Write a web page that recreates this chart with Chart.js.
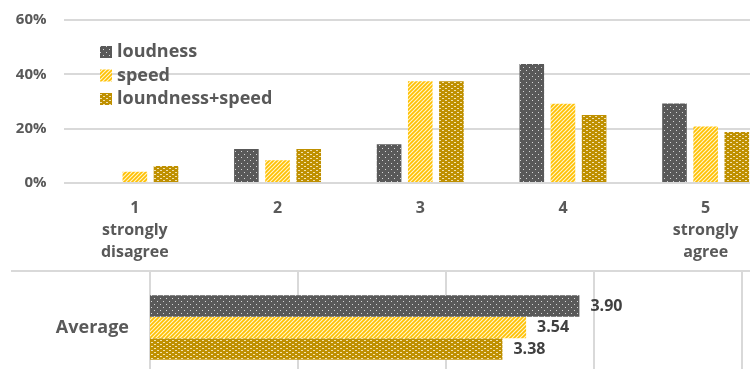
<!DOCTYPE html>
<html>
<head>
<meta charset="utf-8">
<script src="https://cdn.jsdelivr.net/npm/chart.js@4.4.1/dist/chart.umd.min.js"></script>
<style>
  html, body { margin: 0; padding: 0; background: #fff; overflow: hidden; }
  #wrap { position: relative; width: 750px; height: 369px; overflow: hidden; }
  #topBox { position: absolute; left: 0; top: 0; width: 777px; height: 270px; }
  #botBox { position: absolute; left: 0; top: 270px; width: 750px; height: 115px; }
</style>
</head>
<body>
<div id="wrap">
  <div id="topBox"><canvas id="distChart"></canvas></div>
  <div id="botBox"><canvas id="avgChart"></canvas></div>
</div>
<script>
// Dane: rozkład odpowiedzi (%) i średnie
const categories = [['1', 'strongly', 'disagree'], '2', '3', '4', ['5', 'strongly', 'agree']];
const seriesNames = ['loudness', 'speed', 'loundness+speed'];
const loudness = [0, 12.5, 14.3, 43.8, 29.3];
const speed = [4.17, 8.33, 37.5, 29.17, 20.83];
const loudSpeed = [6.25, 12.5, 37.5, 25, 18.75];
const averages = [3.90, 3.54, 3.38];
const avgLabel = ['Average'];
const yTicks = [0, 20, 40, 60];

const TXT = '#595959';
const GRID = '#D9D9D9';
const FONT = "'Open Sans', sans-serif";

// Wzory wypełnień (jak w Excelu)
function dotPattern(bg, dot) {
    const c = document.createElement('canvas');
    c.width = 6; c.height = 6;
    const g = c.getContext('2d');
    g.fillStyle = bg; g.fillRect(0, 0, 6, 6);
    g.fillStyle = dot;
    g.fillRect(1, 1, 1, 1);
    g.fillRect(4, 4, 1, 1);
    return g.createPattern(c, 'repeat');
}
function stripePattern(bg, line) {
    const c = document.createElement('canvas');
    c.width = 4; c.height = 4;
    const g = c.getContext('2d');
    g.fillStyle = bg; g.fillRect(0, 0, 4, 4);
    g.strokeStyle = line; g.lineWidth = 1.2;
    g.beginPath();
    g.moveTo(-1, 5); g.lineTo(5, -1);
    g.moveTo(-1, 1); g.lineTo(1, -1);
    g.moveTo(3, 5); g.lineTo(5, 3);
    g.stroke();
    return g.createPattern(c, 'repeat');
}
function weavePattern(bg, fg) {
    const c = document.createElement('canvas');
    c.width = 6; c.height = 4;
    const g = c.getContext('2d');
    g.fillStyle = bg; g.fillRect(0, 0, 6, 4);
    g.fillStyle = fg;
    g.fillRect(1, 0, 2, 1);
    g.fillRect(4, 2, 2, 1);
    return g.createPattern(c, 'repeat');
}

const fills = [
    dotPattern('#595959', '#d6d6d6'),
    stripePattern('#FFC000', '#fff4cc'),
    weavePattern('#BF9000', '#f2e2b0')
];

// Legenda wewnątrz obszaru wykresu
const innerLegend = {
    id: 'innerLegend',
    afterDraw(chart) {
        const ctx = chart.ctx;
        ctx.save();
        ctx.font = 'bold 18px ' + FONT;
        ctx.textBaseline = 'middle';
        chart.data.datasets.forEach((ds, i) => {
            const y = 52 + i * 23.5;
            ctx.fillStyle = ds.backgroundColor;
            ctx.fillRect(100, y - 6, 12, 12);
            ctx.fillStyle = TXT;
            ctx.fillText(ds.label, 117, y);
        });
        ctx.restore();
    }
};

new Chart(document.getElementById('distChart'), {
    type: 'bar',
    data: {
        labels: categories,
        datasets: [
            { label: seriesNames[0], data: loudness, backgroundColor: fills[0] },
            { label: seriesNames[1], data: speed, backgroundColor: fills[1] },
            { label: seriesNames[2], data: loudSpeed, backgroundColor: fills[2] }
        ]
    },
    options: {
        responsive: true,
        maintainAspectRatio: false,
        animation: false,
        categoryPercentage: 0.655,
        barPercentage: 0.79,
        layout: { padding: { top: 20, left: 0, right: 0, bottom: 0 } },
        plugins: { legend: { display: false }, tooltip: { enabled: false } },
        scales: {
            x: {
                grid: { display: false, drawTicks: false },
                border: { display: false },
                ticks: { color: TXT, font: { family: FONT, size: 16, weight: 'bold', lineHeight: 1.375 }, padding: 14, maxRotation: 0, autoSkip: false },
                afterFit: s => { s.height = 87; }
            },
            y: {
                min: 0, max: 60,
                afterBuildTicks: s => { s.ticks = yTicks.map(v => ({ value: v })); },
                grid: { color: GRID, lineWidth: 2, drawTicks: true, tickLength: 17, tickColor: 'transparent' },
                border: { display: false },
                ticks: { color: TXT, font: { family: FONT, size: 15, weight: 'bold', lineHeight: 0.1 }, padding: 0, callback: v => v + '%' },
                afterFit: s => { s.width = 63.5; }
            }
        }
    },
    plugins: [innerLegend]
});

// Etykiety wartości i linia oddzielająca
const avgExtras = {
    id: 'avgExtras',
    beforeDraw(chart) {
        const ctx = chart.ctx;
        ctx.save();
        ctx.strokeStyle = GRID; ctx.lineWidth = 2;
        ctx.beginPath(); ctx.moveTo(11, 1); ctx.lineTo(chart.width, 1); ctx.stroke();
        ctx.restore();
    },
    afterDatasetsDraw(chart) {
        const ctx = chart.ctx;
        ctx.save();
        ctx.font = 'bold 16px ' + FONT;
        ctx.fillStyle = '#404040';
        ctx.textBaseline = 'middle';
        chart.data.datasets.forEach((ds, i) => {
            chart.getDatasetMeta(i).data.forEach((bar, j) => {
                ctx.fillText(ds.data[j].toFixed(2), bar.x + 11, bar.y);
            });
        });
        ctx.restore();
    }
};

new Chart(document.getElementById('avgChart'), {
    type: 'bar',
    data: {
        labels: avgLabel,
        datasets: [
            { label: seriesNames[0], data: [averages[0]], backgroundColor: fills[0] },
            { label: seriesNames[1], data: [averages[1]], backgroundColor: fills[1] },
            { label: seriesNames[2], data: [averages[2]], backgroundColor: fills[2] }
        ]
    },
    options: {
        indexAxis: 'y',
        responsive: true,
        maintainAspectRatio: false,
        animation: false,
        categoryPercentage: 0.569,
        barPercentage: 1,
        layout: { padding: { top: 1, left: 0, right: 7.7, bottom: 0 } },
        plugins: { legend: { display: false }, tooltip: { enabled: false } },
        scales: {
            x: {
                min: 1, max: 5,
                ticks: { display: false, stepSize: 1 },
                grid: { color: GRID, lineWidth: 2, drawTicks: false },
                border: { display: false },
                afterFit: s => { s.height = 0; }
            },
            y: {
                grid: { display: false, drawTicks: true, tickLength: 21 },
                border: { display: false },
                ticks: { color: TXT, font: { family: FONT, size: 18, weight: 'bold', lineHeight: 0.1 }, padding: 0 },
                afterFit: s => { s.width = 150; }
            }
        }
    },
    plugins: [avgExtras]
});
</script>
</body>
</html>
